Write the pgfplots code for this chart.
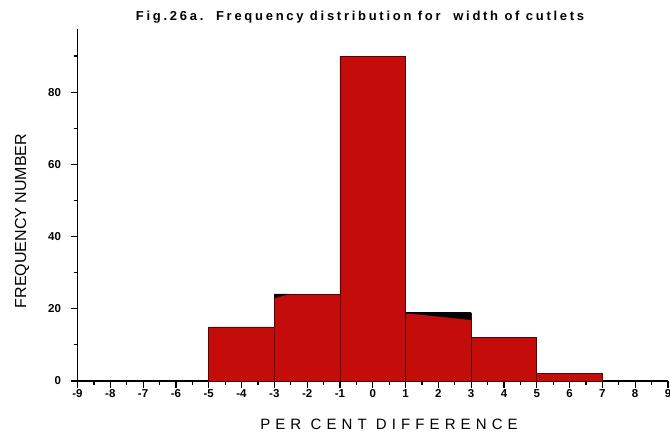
\documentclass[border=0pt]{standalone}
\usepackage{fontspec}
\setmainfont{Liberation Sans}
\usepackage{pgfplots}
\pgfplotsset{compat=1.18}
\definecolor{barred}{RGB}{196,12,10}

\begin{document}
\begin{tikzpicture}
\path[use as bounding box] (0,0) rectangle (670pt,435pt);
\begin{axis}[
  at={(77.5pt,54pt)}, anchor=south west,
  scale only axis, width=590.5pt, height=352pt,
  xmin=-9, xmax=9, ymin=0, ymax=97.5,
  axis lines*=left,
  axis line style={line width=1.5pt},
  xtick={-9,...,9}, minor x tick num=1,
  ytick={0,20,...,80}, minor ytick={10,30,...,90},
  tick align=outside,
  major tick length=7pt, minor tick length=4pt,
  tick style={black, line width=1.2pt},
  ticklabel style={font=\bfseries\fontsize{11.5}{13}\selectfont},
  xticklabel style={yshift=2pt},
  yticklabel style={xshift=-6pt},
  /pgf/number format/assume math mode=true,
  clip=false,
]
% frequency histogram, class width 2 per cent
\addplot[ybar interval, fill=barred, draw=black!60!barred, line width=0.6pt]
  coordinates {(-5,15) (-3,24) (-1,90) (1,18.8) (3,12) (5,2) (7,2)};
% dark edges left on two of the bar tops
\addplot[fill=black, draw=none] coordinates {(-3,24.1) (-2.55,24.1) (-3,22.9)};
\addplot[fill=black, draw=none] coordinates {(1,18.8) (1,19.1) (3,19.1) (3,16.9)};
\end{axis}
\node[font=\bfseries\fontsize{13}{15}\selectfont\addfontfeatures{LetterSpace=21}]
  at (360pt,418pt) {Fig.26a.\ \ Frequency distribution for\ \ width of cutlets};
\node[font=\fontsize{15}{17}\selectfont\addfontfeatures{LetterSpace=34}]
  at (389pt,11pt) {PER CENT DIFFERENCE};
\node[rotate=90, font=\fontsize{16}{18}\selectfont]
  at (22pt,214pt) {FREQUENCY NUMBER};
\end{tikzpicture}
\end{document}
